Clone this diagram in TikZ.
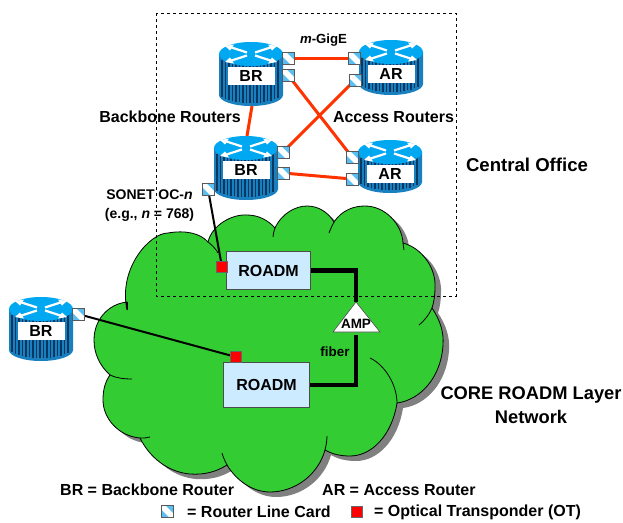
\documentclass[tikz,border=0pt]{standalone}
\usepackage{fontspec}
\setmainfont{Liberation Sans}
\usetikzlibrary{calc}
\usetikzlibrary{positioning}
\usetikzlibrary{arrows.meta}
\definecolor{cloudgreen}{rgb}{0.2,0.8,0.2}
\definecolor{boxblue}{rgb}{0.8,0.92,1.0}
\definecolor{linkred}{rgb}{1.0,0.2,0.0}
\definecolor{routertop}{rgb}{0.0,0.66,0.95}
\definecolor{routerbody}{rgb}{0.1,0.5,0.75}
\definecolor{routerdark}{rgb}{0.03,0.22,0.38}
\definecolor{cardblue}{rgb}{0.35,0.75,0.95}

\newcommand{\cloudpath}{(127,310)
  .. controls (118,268) and (150,233) .. (168,233)
  .. controls (185,230) and (200,233) .. (208,242)
  .. controls (212,225) and (232,214) .. (247,215)
  .. controls (258,215) and (268,220) .. (275,228)
  .. controls (282,213) and (296,206) .. (307,206)
  .. controls (318,206) and (328,212) .. (334,222)
  .. controls (342,210) and (354,206) .. (365,206)
  .. controls (385,206) and (402,224) .. (403,243)
  .. controls (422,248) and (436,268) .. (435,287)
  .. controls (435,295) and (434,302) .. (432,308)
  .. controls (440,320) and (444,332) .. (443,345)
  .. controls (441,378) and (420,400) .. (397,403)
  .. controls (392,435) and (372,456) .. (350,456)
  .. controls (340,456) and (332,454) .. (325,450)
  .. controls (318,475) and (295,492) .. (270,492)
  .. controls (252,492) and (236,480) .. (227,465)
  .. controls (216,472) and (204,475) .. (190,474)
  .. controls (168,472) and (150,458) .. (140,438)
  .. controls (118,436) and (103,418) .. (103,400)
  .. controls (103,390) and (105,382) .. (110,375)
  .. controls (100,366) and (94,354) .. (94,340)
  .. controls (94,320) and (108,304) .. (127,302)
  -- cycle}

\tikzset{%
  cloudline/.style={draw=black,line width=0.8},
  linecard/.style={draw=black!65,line width=1,fill=cardblue,minimum size=12,inner sep=0,
    path picture={\fill[white] (path picture bounding box.north west)
      -- ($(path picture bounding box.north west)+(4,0)$)
      -- ($(path picture bounding box.south east)+(0,-4)$)
      -- (path picture bounding box.south east)
      -- ($(path picture bounding box.south east)+(-4,0)$)
      -- ($(path picture bounding box.north west)+(0,4)$) -- cycle;}},
  transponder/.style={draw=black!60,line width=0.6,fill=red,minimum size=11,inner sep=0},
  roadmbox/.style={draw=black!70,line width=1,fill=boxblue,anchor=north west,inner sep=0,
    font=\fontsize{16}{16}\selectfont\bfseries},
  redlink/.style={linkred,line width=3},
  fiberlink/.style={black,line width=4.4,line cap=butt},
  accesslink/.style={black,line width=2},
  bold/.style={font=\fontsize{16}{19}\selectfont\bfseries,inner sep=0},
  bodydrop/.store in=\bodydrop,
  bodydrop=41,
  router/.pic={
    \fill[routerbody] (-32,0) -- (-32,\bodydrop) arc[start angle=180,end angle=0,x radius=32,y radius=11]
      -- (32,0) -- cycle;
    \foreach \xpos in {-29,-25.5,...,29} {
      \draw[routerdark,line width=1.7] (\xpos,6) -- (\xpos,{\bodydrop+11*sqrt(1-(\xpos/32)^2)-3});
    }
    \fill[routertop] (0,0) ellipse[x radius=32,y radius=12];
    \foreach \xs/\ys in {1/1,-1/1,1/-1,-1/-1} {
      \draw[white,line width=2.2] (\xs*4,\ys*1.5) -- (\xs*21,\ys*7);
      \fill[white] (\xs*21,\ys*3.5) -- (\xs*26,\ys*8) -- (\xs*17,\ys*9.5) -- cycle;
    }
    \node[fill=white,minimum width=47,minimum height=18,inner sep=0,
      font=\fontsize{16}{16}\selectfont\bfseries] (-tag) at (0,22) {#1};
    \coordinate (-north) at (1,-12);
    \coordinate (-south) at (1,\bodydrop+11);
  },
}

\begin{document}
\begin{tikzpicture}[%
  x=1pt,y=-1pt,
]

  \useasboundingbox (0,0) rectangle (623,522);

  % cloud with its shadow
  \fill[black!50,shift={(6,5)}] \cloudpath;
  \path[fill=cloudgreen,cloudline] \cloudpath;
  \draw[cloudline] (127,302) -- (127,310);
  \draw[cloudline] (208,242) .. controls (212,245) and (216,249) .. (218,253);
  \draw[cloudline] (275,228) .. controls (274,231) and (273,234) .. (273,237);
  \draw[cloudline] (334,222) .. controls (332,226) and (330,230) .. (329,233);
  \draw[cloudline] (403,243) -- (404,250);
  \draw[cloudline] (432,308) .. controls (429,315) and (424,321) .. (419,325);
  \draw[cloudline] (370,358) .. controls (385,365) and (397,385) .. (397,403);
  \draw[cloudline] (325,450) .. controls (326,446) and (327,441) .. (327,436);
  \draw[cloudline] (227,465) .. controls (225,461) and (223,457) .. (222,453);
  \draw[cloudline] (140,438) .. controls (144,438) and (147,438) .. (150,437);
  \draw[cloudline] (110,375) .. controls (116,378) and (124,379) .. (132,379);

  % office
  \draw[dashed,line width=0.8] (156,13) rectangle (456,296);

  % routers
  \pic (brone) at (251,54) {router=BR};
  \pic (brtwo) at (246,148) {router=BR};
  \pic[bodydrop=32] (arone) at (391,52) {router=AR};
  \pic[bodydrop=30] (artwo) at (390,152) {router=AR};
  \pic (brext) at (41,309) {router=BR};

  % ROADMs
  \node[roadmbox,minimum width=84,minimum height=38] (roadmA) at (226,251) {ROADM};
  \node[roadmbox,minimum width=86,minimum height=45] (roadmB) at (223,362) {ROADM};

  % amplifier
  \coordinate (ampT) at (356,302);
  \coordinate (ampL) at (333,332);
  \coordinate (ampR) at (380,332);
  \coordinate (ampG) at (356,335);
  \draw[fiberlink] (roadmA.east) -- (ampT |- roadmA.east) -- (ampT);
  \draw[fiberlink] (roadmB.east) -- (ampG |- roadmB.east) -- (ampG);
  \draw[black!70,fill=white,line width=0.6] (ampT) -- (ampL) -- (ampR) -- cycle;
  \node[font=\fontsize{13.5}{14}\selectfont\bfseries,inner sep=0] (ampTag) at (356,324) {AMP};

  % links, under the cards
  \coordinate (cA) at (288,58);
  \coordinate (cB) at (288,75);
  \coordinate (cC) at (354,58);
  \coordinate (cD) at (355,80);
  \coordinate (cE) at (283,152);
  \coordinate (cF) at (283,173);
  \coordinate (cG) at (352,157);
  \coordinate (cH) at (352,179);
  \coordinate (cI) at (208,189);
  \coordinate (cJ) at (78,314);
  \coordinate (otA) at (222,267);
  \coordinate (otB) at (236,357);
  \draw[redlink] (cA) -- (cC);
  \draw[redlink] (cB) -- (cG);
  \draw[redlink] (cE) -- (cD);
  \draw[redlink] (cF) -- (cH);
  \draw[redlink] (brone-south) -- (brtwo-north);
  \draw[accesslink] (cI) -- (otA);
  \draw[accesslink] (cJ) -- (otB);

  \foreach \card in {cA,cB,cC,cD,cE,cF,cG,cH,cI,cJ} {
    \node[linecard] (\card box) at (\card) {};
  }
  \node[transponder] (otAbox) at (otA) {};
  \node[transponder] (otBbox) at (otB) {};

  % labels
  \node[bold,font=\fontsize{13.2}{14}\selectfont\bfseries] (mGig) at (323.5,40) {\textit{m}-GigE};
  \node[bold] (lblBack) at (170,117) {Backbone Routers};
  \node[bold] (lblAccess) at (393.5,117) {Access Routers};
  \node[bold,font=\fontsize{18.6}{21}\selectfont\bfseries] (lblOffice) at (527,165) {Central Office};
  \node[bold,align=center,font=\fontsize{14}{19}\selectfont\bfseries] (lblSonet) at (149.5,206)
    {SONET OC-\textit{n}\\(e.g., \textit{n} = 768)};
  \node[bold,font=\fontsize{13.4}{14}\selectfont\bfseries] (lblFiber) at (335,352) {fiber};
  \node[bold,align=center,font=\fontsize{18.3}{24}\selectfont\bfseries] (lblCore) at (531,405)
    {CORE ROADM Layer\\Network};
  \node[bold,anchor=west] (lblBR) at (60,490) {BR = Backbone Router};
  \node[bold,anchor=west] (lblAR) at (322,490) {AR = Access Router};
  \node[linecard] (keyCard) at (167,511) {};
  \node[bold,anchor=west] (lblCard) at (187,512) {= Router Line Card};
  \node[transponder] (keyOT) at (357,512) {};
  \node[bold,anchor=west] (lblOT) at (374,512) {= Optical Transponder (OT)};

\end{tikzpicture}
\end{document}
